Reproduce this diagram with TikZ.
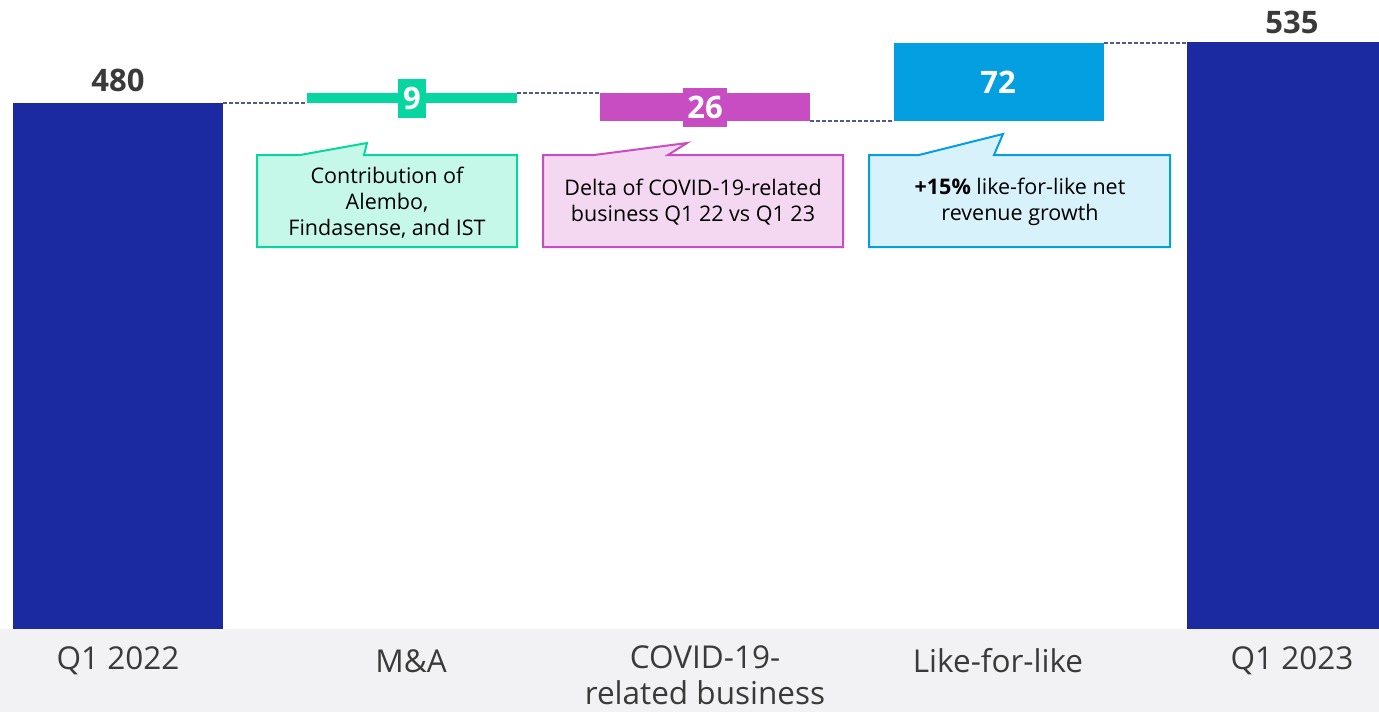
\documentclass[tikz,border=0pt]{standalone}
\usepackage{fontspec}
\setmainfont{Open Sans}
\definecolor{navy}{HTML}{1B2AA0}
\definecolor{mint}{HTML}{07D6A0}
\definecolor{mintfill}{HTML}{C6F8EA}
\definecolor{orchid}{HTML}{C84DC2}
\definecolor{orchidfill}{HTML}{F4D8F2}
\definecolor{sky}{HTML}{039FE0}
\definecolor{skyfill}{HTML}{D8F2FC}
\definecolor{band}{HTML}{F2F2F4}
\definecolor{ink}{HTML}{3A3A3A}
\definecolor{guide}{HTML}{4F5B88}
\begin{document}
\begin{tikzpicture}[x=1pt,y=-1pt,
  bar/.style={inner sep=0pt,outer sep=0pt,anchor=north west},
  tag/.style={inner sep=0pt,outer sep=0pt,text=white,font=\fontsize{31}{31}\selectfont\bfseries},
  total/.style={text=ink,font=\fontsize{31}{31}\selectfont\bfseries},
  axis/.style={text=ink,align=center,font=\fontsize{31.5}{36}\selectfont},
  guideline/.style={guide,line width=1.1pt,dash pattern=on 4pt off 2pt},
  callout/.style={line width=2pt,line join=miter},
  note/.style={align=center,text=black,font=\fontsize{21.5}{26}\selectfont}]
\useasboundingbox (0,0) rectangle (1379,712);
% category band
\fill[band] (0,629) rectangle (1379,712);
% bars
\node[bar,fill=navy,minimum width=210pt,minimum height=526pt] (q22) at (13,103) {};
\node[bar,fill=mint,minimum width=210pt,minimum height=10pt] (ma) at (307,93) {};
\node[bar,fill=orchid,minimum width=210pt,minimum height=28pt] (covid) at (600,93) {};
\node[bar,fill=sky,minimum width=210pt,minimum height=78pt] (lfl) at (894,43) {};
\node[bar,fill=navy,minimum width=192pt,minimum height=587pt] (q23) at (1187,42) {};
% step guides
\draw[guideline] (q22.north east) -- (ma.south west);
\draw[guideline] (ma.north east) -- (covid.north west);
\draw[guideline] (covid.south east) -- (lfl.south west);
\draw[guideline] (lfl.north east) -- (lfl.north east -| q23.north west);
% values
\node[total] (v22) at (118,80) {480};
\node[total] (v23) at (1292,22) {535};
\node[tag,fill=mint,minimum width=28pt,minimum height=39pt] (vma) at (412,98) {9};
\node[tag,fill=orchid,minimum width=44pt,minimum height=39pt] (vcovid) at (705,107) {26};
\node[tag] (vlfl) at (998,82) {72};
% callouts
\draw[callout,draw=mint,fill=mintfill] (257,155) -- (300,155) -- (367,143) -- (364,155) -- (517,155) -- (517,247) -- (257,247) -- cycle;
\node[note] (nma) at (387,203) {Contribution of\\Alembo,\\Findasense, and IST};
\draw[callout,draw=orchid,fill=orchidfill] (543,155) -- (594,155) -- (687,143) -- (668,155) -- (843,155) -- (843,247) -- (543,247) -- cycle;
\node[note] (ncovid) at (693,202) {Delta of COVID-19-related\\business Q1 22 vs Q1 23};
\draw[callout,draw=sky,fill=skyfill] (869,155) -- (919,155) -- (1003,134) -- (994,155) -- (1170,155) -- (1170,247) -- (869,247) -- cycle;
\node[note] (nlfl) at (1020,202) {\textbf{+15\%} like-for-like net\\revenue growth};
% category labels
\node[axis] (c1) at (118,661) {Q1 2022};
\node[axis] (c2) at (411,661) {M\&A};
\node[axis,anchor=north] (c3) at (705,642) {COVID-19-\\related business};
\node[axis] (c4) at (998,661) {Like-for-like};
\node[axis] (c5) at (1292,661) {Q1 2023};
\end{tikzpicture}
\end{document}
